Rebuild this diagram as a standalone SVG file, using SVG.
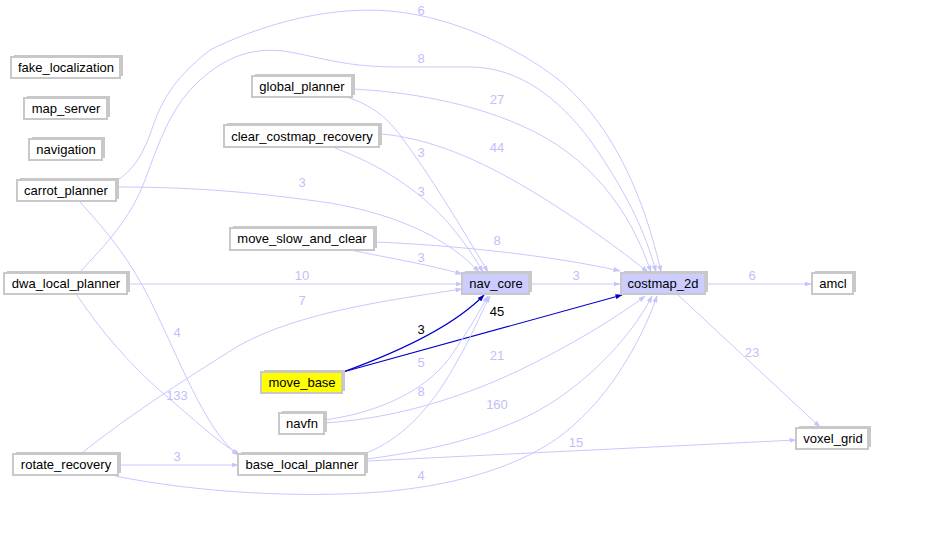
<svg xmlns="http://www.w3.org/2000/svg" width="929" height="553" viewBox="0 0 929 553">
<defs>
<marker id="al" markerUnits="userSpaceOnUse" markerWidth="7" markerHeight="5" refX="6.5" refY="2.5" orient="auto"><path d="M0,0 L7,2.5 L0,5 z" fill="#c4c4ff"/></marker>
<marker id="ad" markerUnits="userSpaceOnUse" markerWidth="7" markerHeight="5" refX="6.5" refY="2.5" orient="auto"><path d="M0,0 L7,2.5 L0,5 z" fill="#0000cc"/></marker>
</defs>
<style>
.bg{fill:#ffffff}
.e{fill:none;stroke:#c8c8ff;stroke-width:1;marker-end:url(#al)}
.d{fill:none;stroke:#0000cc;stroke-width:1.1;marker-end:url(#ad)}
.lt{font-family:"Liberation Sans",Arial,sans-serif;font-size:13px;fill:#c0c0f8;text-anchor:middle}
.dt{font-family:"Liberation Sans",Arial,sans-serif;font-size:13px;fill:#000000;text-anchor:middle}
.sh{fill:#c8c8c8}
.bx{fill:#ffffff;stroke:#c8c8c8;stroke-width:2}
.bl{fill:#ccccff;stroke:#c8c8c8;stroke-width:2}
.by{fill:#ffff00;stroke:#c8c8c8;stroke-width:2}
.nt{font-family:"Liberation Sans",Arial,sans-serif;font-size:13px;fill:#000000;text-anchor:middle}
</style>
<rect class="bg" x="0" y="0" width="929" height="553"/>
<g id="connectors">
<path class="e" d="M116,181 C135,170 145,150 153,126 C165,90 185,70 210,50 C250,30 320,5 390,11 C460,17 530,55 565,85 C615,130 645,200 661,272"/>
<text class="lt" x="421" y="15">6</text>
<path class="e" d="M80,272 C105,245 130,220 145,180 C160,140 170,110 195,85 C220,60 250,45 290,52 C330,60 350,67 400,67 L470,67 C520,67 560,100 590,140 C625,190 645,230 656,272"/>
<text class="lt" x="421" y="63">8</text>
<path class="e" d="M353,89 C410,92 470,103 520,125 C590,155 630,210 651,272"/>
<text class="lt" x="497" y="104">27</text>
<path class="e" d="M381,134 C430,138 480,160 530,190 C580,220 620,250 648,272"/>
<text class="lt" x="497" y="152">44</text>
<path class="e" d="M347,97 C370,105 385,115 400,135 C430,175 460,225 488,272"/>
<text class="lt" x="421" y="157">3</text>
<path class="e" d="M335,148 C380,165 420,190 450,225 C465,243 475,258 483,272"/>
<text class="lt" x="421" y="196">3</text>
<path class="e" d="M117,187 C200,187 260,193 330,203 C400,215 450,240 479,272"/>
<text class="lt" x="302" y="187">3</text>
<path class="e" d="M375,242 C450,245 550,255 620,271"/>
<text class="lt" x="497" y="245">8</text>
<path class="e" d="M350,250 C390,258 430,265 462,274"/>
<text class="lt" x="421" y="262">3</text>
<path class="e" d="M127,284 L462,284"/>
<text class="lt" x="302" y="280">10</text>
<path class="e" d="M82,453 C120,422 180,382 240,345 C300,312 390,300 462,289"/>
<text class="lt" x="302" y="305">7</text>
<path class="e" d="M529,284 L620,284"/>
<text class="lt" x="576" y="280">3</text>
<path class="e" d="M706,284 L811,284"/>
<text class="lt" x="752" y="280">6</text>
<path class="e" d="M677,294 L820,427"/>
<text class="lt" x="752" y="357">23</text>
<path class="e" d="M80,202 C110,235 130,260 150,300 C180,360 205,430 238,455"/>
<text class="lt" x="177" y="337">4</text>
<path class="e" d="M77,295 C100,330 130,365 165,395 C195,420 215,440 240,455"/>
<text class="lt" x="177" y="400">133</text>
<path class="d" d="M343,372 C390,355 450,330 484,295"/>
<text class="dt" x="421" y="334">3</text>
<path class="d" d="M343,372 L622,295"/>
<text class="dt" x="497" y="316">45</text>
<path class="e" d="M325,420 C380,412 430,390 455,350 C470,328 480,310 488,296"/>
<text class="lt" x="421" y="367">5</text>
<path class="e" d="M325,423 C400,418 470,395 530,365 C580,340 620,315 645,296"/>
<text class="lt" x="497" y="360">21</text>
<path class="e" d="M366,453 C400,440 430,410 455,365 C470,340 480,315 490,296"/>
<text class="lt" x="421" y="396">8</text>
<path class="e" d="M367,459 C420,452 480,440 530,415 C580,390 630,340 652,296"/>
<text class="lt" x="497" y="409">160</text>
<path class="e" d="M367,461 L796,440"/>
<text class="lt" x="576" y="447">15</text>
<path class="e" d="M118,465 L238,465"/>
<text class="lt" x="177" y="461">3</text>
<path class="e" d="M115,476 C200,493 300,498 380,492 C450,486 510,470 555,440 C605,405 640,345 657,296"/>
<text class="lt" x="421" y="480">4</text>
</g>
<g id="fake_localization"><rect class="sh" x="14" y="55" width="109" height="21"/><rect class="bx" x="11" y="57" width="109" height="21"/><text class="nt" x="66" y="72">fake_localization</text></g>
<g id="map_server"><rect class="sh" x="27" y="96" width="83" height="21"/><rect class="bx" x="24" y="98" width="83" height="21"/><text class="nt" x="66" y="113">map_server</text></g>
<g id="navigation"><rect class="sh" x="32" y="137" width="73" height="21"/><rect class="bx" x="29" y="139" width="73" height="21"/><text class="nt" x="66" y="154">navigation</text></g>
<g id="carrot_planner"><rect class="sh" x="20" y="178" width="99" height="21"/><rect class="bx" x="17" y="180" width="99" height="21"/><text class="nt" x="66" y="195">carrot_planner</text></g>
<g id="global_planner"><rect class="sh" x="255" y="74" width="100" height="21"/><rect class="bx" x="252" y="76" width="100" height="21"/><text class="nt" x="302" y="91">global_planner</text></g>
<g id="clear_costmap_recovery"><rect class="sh" x="227" y="123" width="155" height="22"/><rect class="bx" x="224" y="125" width="155" height="22"/><text class="nt" x="302" y="141">clear_costmap_recovery</text></g>
<g id="move_slow_and_clear"><rect class="sh" x="233" y="226" width="144" height="22"/><rect class="bx" x="230" y="228" width="144" height="22"/><text class="nt" x="302" y="243">move_slow_and_clear</text></g>
<g id="dwa_local_planner"><rect class="sh" x="7" y="271" width="123" height="21"/><rect class="bx" x="4" y="273" width="123" height="21"/><text class="nt" x="66" y="288">dwa_local_planner</text></g>
<g id="nav_core"><rect class="sh" x="465" y="271" width="67" height="21"/><rect class="bl" x="462" y="273" width="67" height="21"/><text class="nt" x="496" y="288">nav_core</text></g>
<g id="costmap_2d"><rect class="sh" x="624" y="271" width="84" height="21"/><rect class="bl" x="621" y="273" width="84" height="21"/><text class="nt" x="663" y="288">costmap_2d</text></g>
<g id="amcl"><rect class="sh" x="815" y="271" width="41" height="21"/><rect class="bx" x="812" y="273" width="41" height="21"/><text class="nt" x="833" y="288">amcl</text></g>
<g id="move_base"><rect class="sh" x="264" y="370" width="81" height="21"/><rect class="by" x="261" y="372" width="81" height="21"/><text class="nt" x="302" y="387">move_base</text></g>
<g id="navfn"><rect class="sh" x="282" y="411" width="45" height="21"/><rect class="bx" x="279" y="413" width="45" height="21"/><text class="nt" x="302" y="428">navfn</text></g>
<g id="voxel_grid"><rect class="sh" x="799" y="426" width="72" height="21"/><rect class="bx" x="796" y="428" width="72" height="21"/><text class="nt" x="833" y="443">voxel_grid</text></g>
<g id="rotate_recovery"><rect class="sh" x="16" y="452" width="105" height="21"/><rect class="bx" x="13" y="454" width="105" height="21"/><text class="nt" x="66" y="469">rotate_recovery</text></g>
<g id="base_local_planner"><rect class="sh" x="241" y="452" width="127" height="21"/><rect class="bx" x="238" y="454" width="127" height="21"/><text class="nt" x="302" y="469">base_local_planner</text></g>
</svg>
